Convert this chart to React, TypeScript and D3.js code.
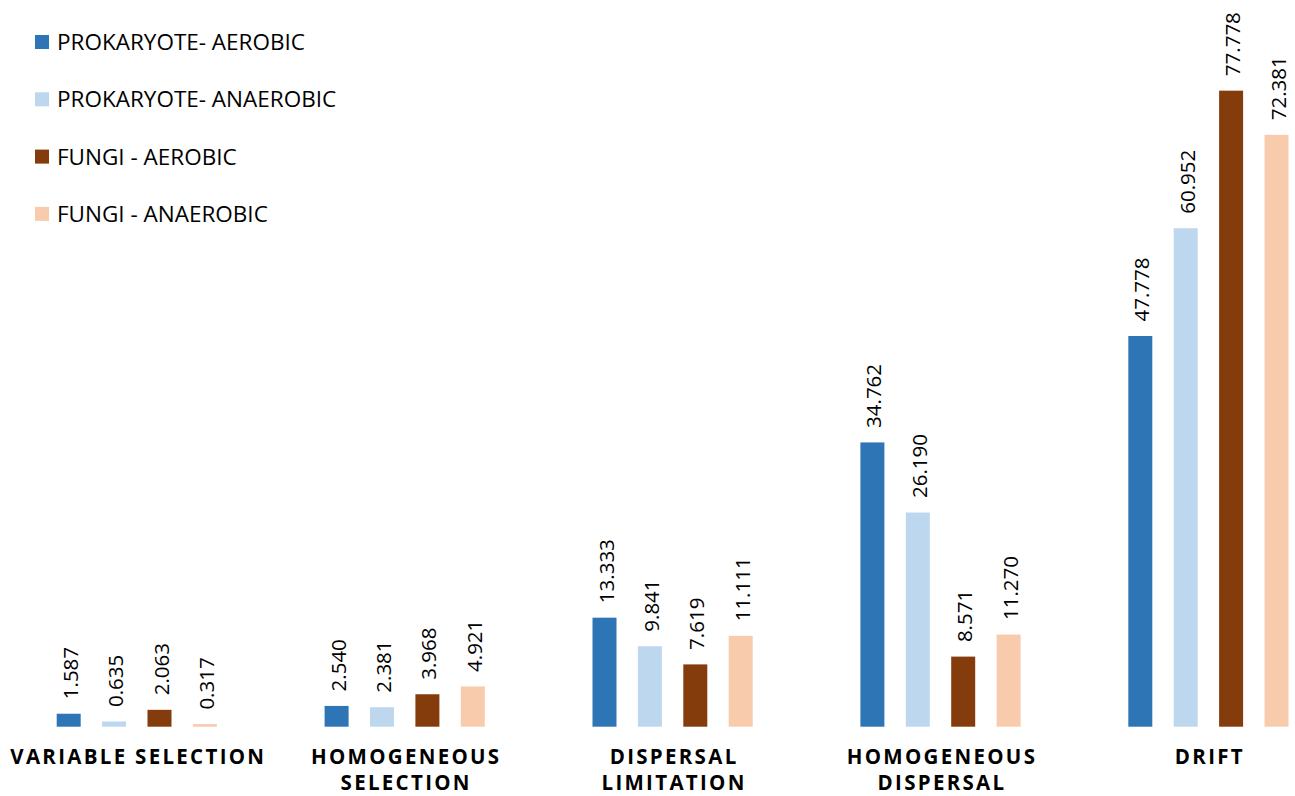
import React from "react";
import * as d3 from "d3";

const categories: string[][] = [
  ["VARIABLE SELECTION"],
  ["HOMOGENEOUS", "SELECTION"],
  ["DISPERSAL", "LIMITATION"],
  ["HOMOGENEOUS", "DISPERSAL"],
  ["DRIFT"],
];
const seriesNames = [
  "PROKARYOTE- AEROBIC",
  "PROKARYOTE- ANAEROBIC",
  "FUNGI - AEROBIC",
  "FUNGI - ANAEROBIC",
];
const seriesColors = ["#2E75B6", "#BDD7EE", "#843C0C", "#F8CBAD"];
const prokAerobic = [1.587, 2.54, 13.333, 34.762, 47.778];
const prokAnaerobic = [0.635, 2.381, 9.841, 26.19, 60.952];
const fungiAerobic = [2.063, 3.968, 7.619, 8.571, 77.778];
const fungiAnaerobic = [0.317, 4.921, 11.111, 11.27, 72.381];
const seriesValues = [prokAerobic, prokAnaerobic, fungiAerobic, fungiAnaerobic];

const W = 1295;
const H = 796;

export default function App() {
  const keys = categories.map((_, i) => String(i));
  const x0 = d3.scaleBand<string>().domain(keys).range([2.85, 2.85 + 5 * 267.9]).paddingInner(0).paddingOuter(0);
  const pi = 1 - 24 / 45.4;
  const innerSpan = 4 * 45.4;
  const x1 = d3
    .scaleBand<string>()
    .domain(seriesNames)
    .range([(x0.bandwidth() - innerSpan) / 2, (x0.bandwidth() + innerSpan) / 2])
    .paddingInner(pi)
    .paddingOuter(pi / 2);
  const y = d3.scaleLinear().domain([0, 80]).range([726.7, 72.5]);

  return (
    <div style={{ position: "absolute", left: 0, top: 0, width: W, height: H }}>
      <svg width={W} height={H} style={{ display: "block", background: "#fff" }}>
        {categories.map((cat, ci) => {
          const gx = x0(String(ci))!;
          return (
            <g key={ci} transform={`translate(${gx},0)`}>
              {seriesNames.map((s, si) => {
                const v = seriesValues[si][ci];
                const bx = x1(s)!;
                const by = y(v);
                const cx = bx + x1.bandwidth() / 2;
                return (
                  <g key={s}>
                    <rect x={bx} y={by} width={x1.bandwidth()} height={y(0) - by} fill={seriesColors[si]} />
                    <text
                      transform={`translate(${cx + 1},${by - 14.5}) rotate(-90)`}
                      textAnchor="start"
                      dominantBaseline="central"
                      fontFamily="'Open Sans', sans-serif"
                      fontSize={20.5}
                      fill="#000"
                    >
                      {v.toFixed(3)}
                    </text>
                  </g>
                );
              })}
              {cat.map((line, li) => (
                <text
                  key={li}
                  x={x0.bandwidth() / 2 + 1.5}
                  y={763.5 + li * 26}
                  textAnchor="middle"
                  fontFamily="'Open Sans', sans-serif"
                  fontWeight={700}
                  fontSize={20.5}
                  letterSpacing={2.3}
                  fill="#000"
                >
                  {line}
                </text>
              ))}
            </g>
          );
        })}
        {seriesNames.map((s, si) => (
          <g key={s} transform={`translate(35,${35 + si * 57.3})`}>
            <rect x={0} y={0} width={14} height={14} fill={seriesColors[si]} />
            <text
              x={22}
              y={15}
              fontFamily="'Open Sans', sans-serif"
              fontSize={22.5}
              fill="#000"
            >
              {s}
            </text>
          </g>
        ))}
      </svg>
    </div>
  );
}
